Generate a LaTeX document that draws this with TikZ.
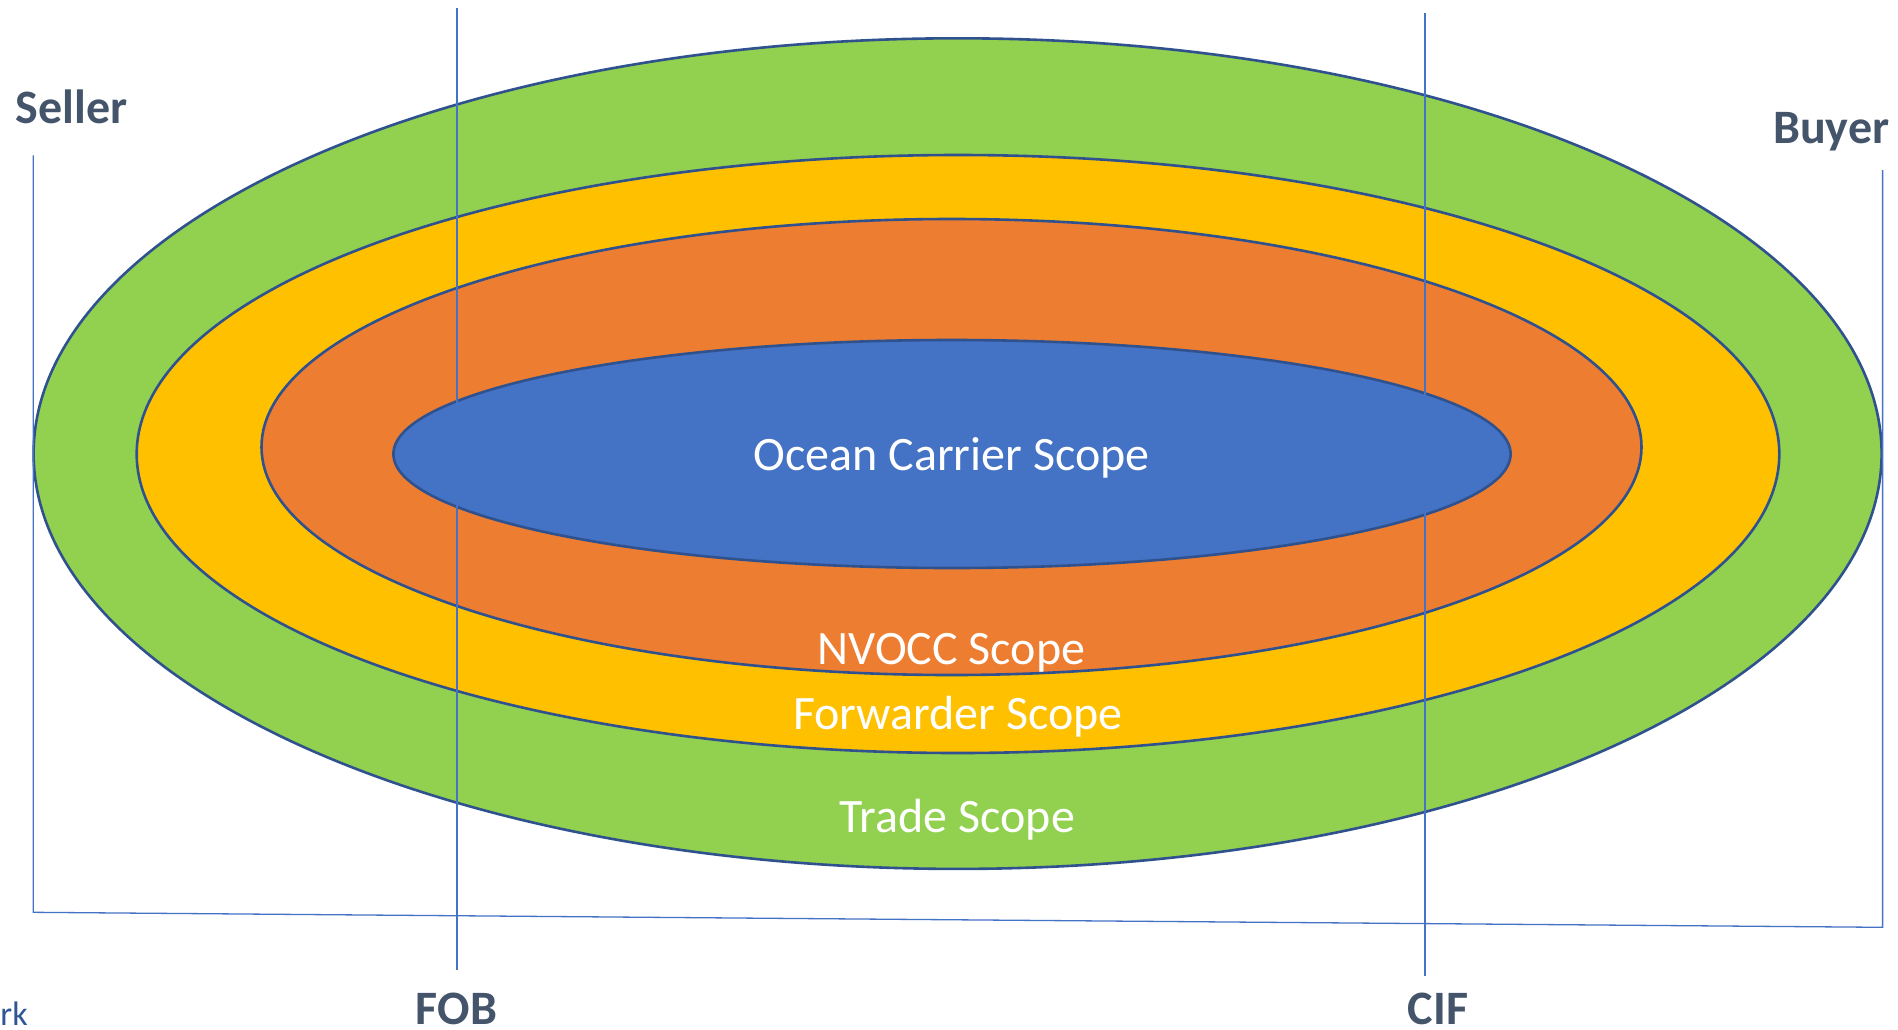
\documentclass[tikz,border=0pt]{standalone}
\usepackage{fontspec}
\setmainfont{Carlito}
\definecolor{tradegreen}{HTML}{92D050}
\definecolor{fwdyellow}{HTML}{FFC000}
\definecolor{nvoccorange}{HTML}{ED7D31}
\definecolor{carrierblue}{HTML}{4472C4}
\definecolor{ringedge}{HTML}{2F528F}
\definecolor{guideblue}{HTML}{4472C4}
\definecolor{labelslate}{HTML}{44546A}
\definecolor{notelink}{HTML}{2F5597}
\tikzset{
  ring/.style={draw=ringedge, line width=2.6pt},
  guide/.style={draw=guideblue, line width=1.3pt},
  scopetext/.style={text=white, anchor=base, inner sep=0pt,
    font=\fontsize{48}{58}\selectfont},
  partytext/.style={text=labelslate, inner sep=0pt,
    font=\fontsize{48}{58}\selectfont\bfseries},
}
\begin{document}
\begin{tikzpicture}[x=1pt, y=-1pt]
\useasboundingbox (0,0) rectangle (1898,1029);
\fill[white] (0,0) rectangle (1898,1029);

% nested scope rings, outermost first
\draw[ring, fill=tradegreen]  (957.6,453.6) ellipse [x radius=924pt,   y radius=415.3pt];
\draw[ring, fill=fwdyellow]   (958,454)     ellipse [x radius=821.3pt, y radius=299pt];
\draw[ring, fill=nvoccorange] (951.5,447)   ellipse [x radius=690pt,   y radius=228pt];
\draw[ring, fill=carrierblue] (952,454)     ellipse [x radius=558.6pt, y radius=114pt];

% scope labels
\node[scopetext] (ocean)     at (951.5,470)   {Ocean Carrier Scope};
\node[scopetext] (nvocc)     at (951.5,664)   {NVOCC Scope};
\node[scopetext] (forwarder) at (958,729)     {Forwarder Scope};
\node[scopetext] (trade)     at (957.2,832.5) {Trade Scope};

% seller / buyer bracket
\coordinate (sellerTop) at (33.3,155.3);
\coordinate (sellerBot) at (33.3,912.3);
\coordinate (buyerBot)  at (1882.6,927.3);
\coordinate (buyerTop)  at (1882.6,170);
\draw[guide] (sellerTop) -- (sellerBot) -- (buyerBot) -- (buyerTop);

% incoterm markers
\coordinate (fobTop) at (457,8.3);
\coordinate (fobBot) at (457,970);
\coordinate (cifTop) at (1425,13.3);
\coordinate (cifBot) at (1425,975.7);
\draw[guide] (fobTop) -- (fobBot);
\draw[guide] (cifTop) -- (cifBot);

% party and term labels
\node[partytext, anchor=base west] (seller) at (15.5,123.3) {Seller};
\node[partytext, anchor=base east] (buyer)  at (1889.5,143.3) {Buyer};
\node[partytext, anchor=base] (fob) at (456.5,1024) {FOB};
\node[partytext, anchor=base] (cif) at (1438,1024) {CIF};
\node[text=notelink, anchor=base east, inner sep=0pt,
  font=\fontsize{34}{40}\selectfont] (rk) at (28,1025) {rk};
\end{tikzpicture}
\end{document}
